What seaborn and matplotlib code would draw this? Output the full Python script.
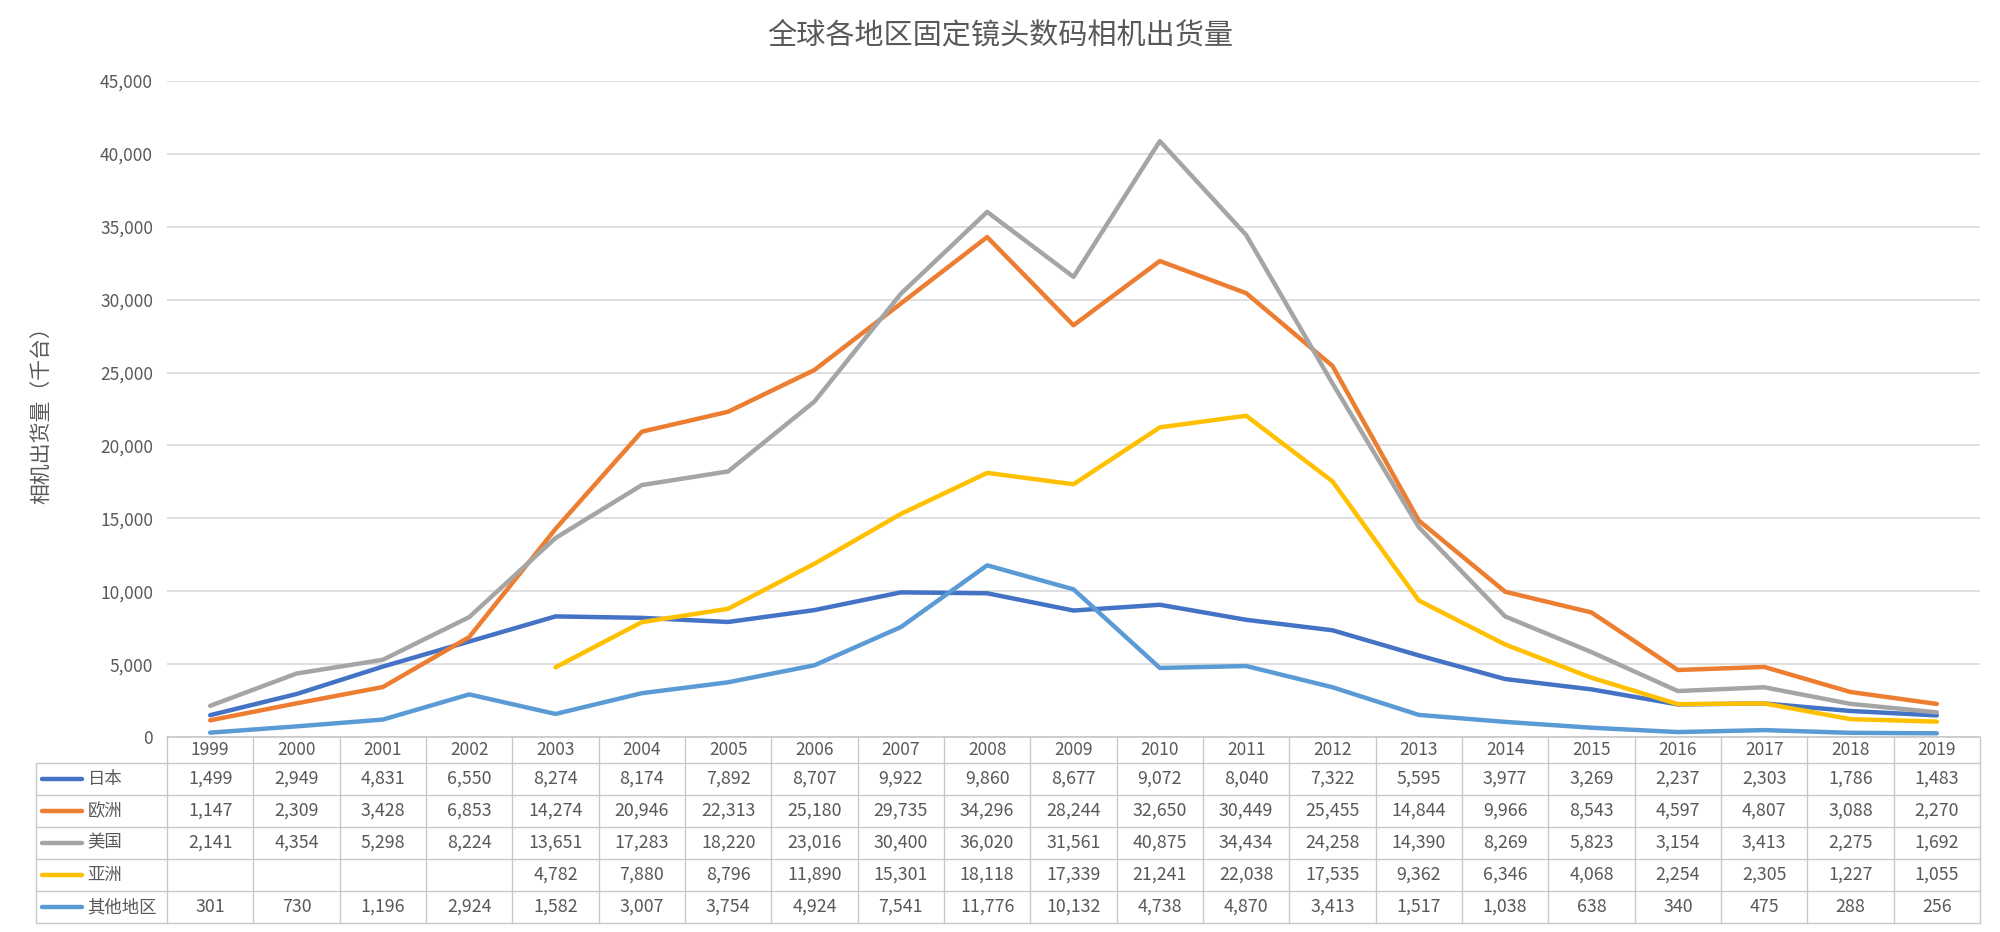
import numpy as np
import pandas as pd
import seaborn as sns
import matplotlib.pyplot as plt
from matplotlib.ticker import FuncFormatter, MultipleLocator

years = list(range(1999, 2020))
regions = ["日本", "欧洲", "美国", "亚洲", "其他地区"]
japan = [1499, 2949, 4831, 6550, 8274, 8174, 7892, 8707, 9922, 9860, 8677,
         9072, 8040, 7322, 5595, 3977, 3269, 2237, 2303, 1786, 1483]
europe = [1147, 2309, 3428, 6853, 14274, 20946, 22313, 25180, 29735, 34296, 28244,
          32650, 30449, 25455, 14844, 9966, 8543, 4597, 4807, 3088, 2270]
usa = [2141, 4354, 5298, 8224, 13651, 17283, 18220, 23016, 30400, 36020, 31561,
       40875, 34434, 24258, 14390, 8269, 5823, 3154, 3413, 2275, 1692]
asia = [None, None, None, None, 4782, 7880, 8796, 11890, 15301, 18118, 17339,
        21241, 22038, 17535, 9362, 6346, 4068, 2254, 2305, 1227, 1055]
other = [301, 730, 1196, 2924, 1582, 3007, 3754, 4924, 7541, 11776, 10132,
         4738, 4870, 3413, 1517, 1038, 638, 340, 475, 288, 256]
colors = ["#4472C4", "#ED7D31", "#A5A5A5", "#FFC000", "#5B9BD5"]

series = [japan, europe, usa, asia, other]
df = pd.DataFrame({
    "year": years * len(regions),
    "region": np.repeat(regions, len(years)),
    "value": np.array([v for s in series for v in s], dtype=float),
})

sns.set_theme(style="white")
plt.rcParams["font.family"] = ["Noto Sans CJK SC", "DejaVu Sans"]

text_color = "#595959"
grid_color = "#D9D9D9"
border_color = "#C8C8C8"

fig = plt.figure(figsize=(20, 9.32), dpi=100)
left, width = 0.0835, 0.9065
ax = fig.add_axes([left, 0.2092, width, 0.7039])

sns.lineplot(data=df, x="year", y="value", hue="region", hue_order=regions,
             palette=colors, linewidth=3.2, legend=False, ax=ax,
             solid_capstyle="round", solid_joinstyle="round")

ax.set_xlim(1998.5, 2019.5)
ax.set_ylim(0, 45000)
ax.yaxis.set_major_locator(MultipleLocator(5000))
ax.yaxis.set_major_formatter(FuncFormatter(lambda v, p: f"{int(v):,}"))
ax.grid(axis="y", color=grid_color, linewidth=1.2)
ax.set_axisbelow(True)
ax.set_xticks([])
ax.set_xlabel("")
ax.set_ylabel("")
ax.tick_params(axis="y", length=0, pad=10, labelsize=12.5, labelcolor=text_color)
for s in ["top", "right", "left", "bottom"]:
    ax.spines[s].set_visible(False)

# Data table below the plot
ax_t = fig.add_axes([left, 0.0096, width, 0.1996])
ax_t.set_xlim(1998.5, 2019.5)
ax_t.set_ylim(0, 5.8)
ax_t.axis("off")

x_lo, x_hi = 1998.5, 2019.5
x0 = x_lo - 1.52
ax_t.plot([x_lo, x_hi], [5.8, 5.8], color=border_color, lw=1.2, clip_on=False)
for yb in [5.0, 4.0, 3.0, 2.0, 1.0, 0.0]:
    ax_t.plot([x0, x_hi], [yb, yb], color=border_color, lw=1.0, clip_on=False)
for k in range(len(years) + 1):
    ax_t.plot([x_lo + k, x_lo + k], [0, 5.8], color=border_color, lw=1.0, clip_on=False)
ax_t.plot([x0, x0], [0, 5.0], color=border_color, lw=1.0, clip_on=False)

for yr in years:
    ax_t.text(yr, 5.4, str(yr), ha="center", va="center", fontsize=12.5, color=text_color)

for i, (name, vals, c) in enumerate(zip(regions, series, colors)):
    yc = 4.5 - i
    ax_t.plot([x0 + 0.07, x0 + 0.53], [yc, yc], color=c, lw=3.2,
              solid_capstyle="round", clip_on=False)
    ax_t.text(x0 + 0.6, yc, name, ha="left", va="center", fontsize=12.5,
              color=text_color, clip_on=False)
    for yr, v in zip(years, vals):
        if v is None:
            continue
        ax_t.text(yr, yc, f"{v:,}", ha="center", va="center", fontsize=12.8,
                  color=text_color)

fig.text(0.5, 0.962, "全球各地区固定镜头数码相机出货量", ha="center", va="center",
         fontsize=21, color=text_color)
fig.text(0.0205, 0.56, "相机出货量（千台）", ha="center", va="center",
         rotation=90, fontsize=15, color=text_color)

fig.savefig("out.png", dpi=100)
